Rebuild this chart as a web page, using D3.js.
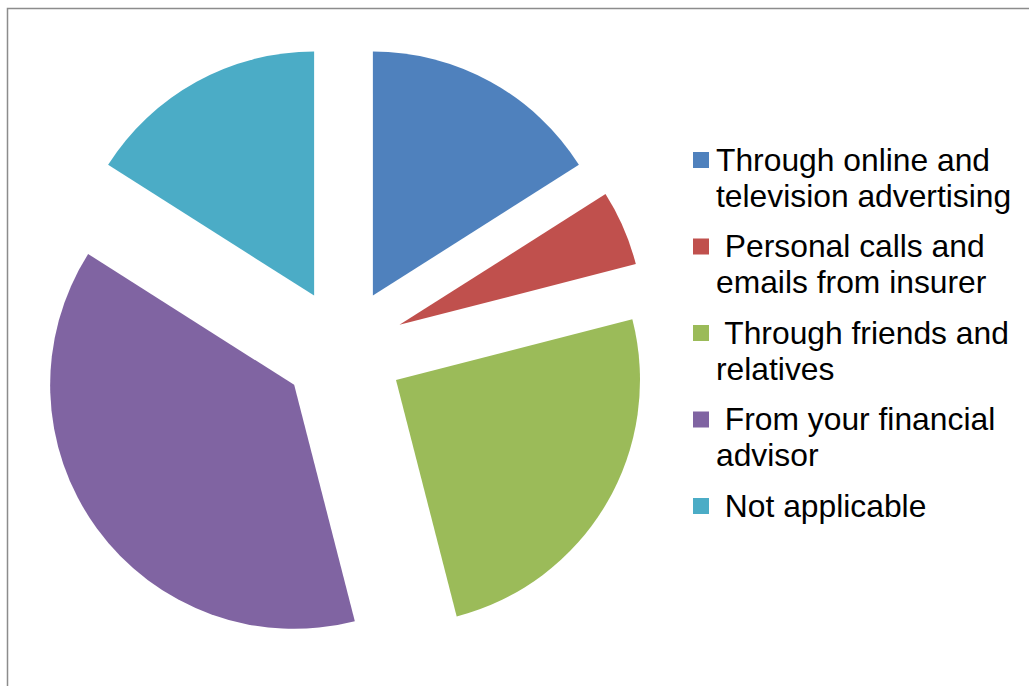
<!DOCTYPE html>
<html>
<head>
<meta charset="utf-8">
<script src="https://cdn.jsdelivr.net/npm/d3@7"></script>
<style>
  html, body { margin: 0; padding: 0; background: #fff; }
  svg { display: block; }
  text { font-family: "Liberation Sans", Arial, sans-serif; }
</style>
</head>
<body>
<script>
// Survey: how respondents heard about the insurance product (percent)
const categories = [
  ["Through online and", "television advertising"],
  [" Personal calls and", "emails from insurer"],
  [" Through friends and", "relatives"],
  [" From your financial", "advisor"],
  [" Not applicable"]
];
const values = [16, 5, 25, 38, 16];
const colors = ["#4F81BD", "#C0504D", "#9BBB59", "#8064A2", "#4BACC6"];

const W = 1029, H = 686;
const svg = d3.select("body").append("svg").attr("width", W).attr("height", H);

// chart frame
svg.append("rect")
  .attr("x", 7.5).attr("y", 8.5)
  .attr("width", 1200).attr("height", 1000)
  .attr("fill", "none").attr("stroke", "#8c8c8c").attr("stroke-width", 1.5);

const cx = 343.5, cy = 349, radius = 244, explode = 61;

const pie = d3.pie().sort(null).startAngle(0).endAngle(2 * Math.PI);
const arc = d3.arc().innerRadius(0).outerRadius(radius);
const arcs = pie(values);

const g = svg.append("g").attr("transform", `translate(${cx},${cy})`);
g.selectAll("path")
  .data(arcs)
  .join("path")
  .attr("d", arc)
  .attr("fill", (d, i) => colors[i])
  .attr("transform", d => {
    const a = (d.startAngle + d.endAngle) / 2;
    return `translate(${explode * Math.sin(a)},${-explode * Math.cos(a)})`;
  });

// legend
const legendX = 693, legendY = 159.5, itemGap = 86.5, lineH = 36;
const leg = svg.append("g");
const items = leg.selectAll("g")
  .data(categories)
  .join("g")
  .attr("transform", (d, i) => `translate(${legendX},${legendY + i * itemGap})`);

items.append("rect")
  .attr("x", 0).attr("y", -7.5)
  .attr("width", 16).attr("height", 16)
  .attr("fill", (d, i) => colors[i]);

items.append("text")
  .attr("x", 23)
  .attr("y", 0)
  .attr("font-size", 31.8)
  .attr("fill", "#000")
  .style("white-space", "pre")
  .selectAll("tspan")
  .data(d => d)
  .join("tspan")
  .attr("x", 23)
  .attr("dy", (d, j) => j === 0 ? "0.36em" : lineH)
  .text(d => d);
</script>
</body>
</html>
